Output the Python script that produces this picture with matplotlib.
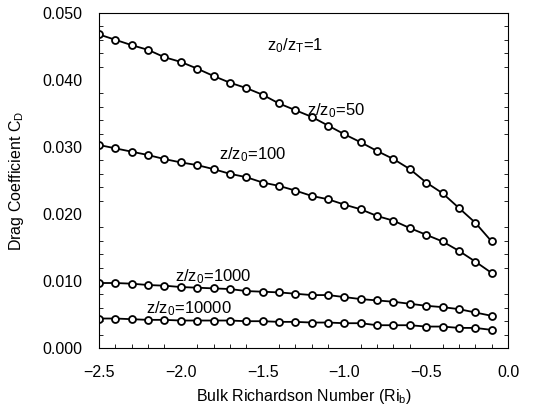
import matplotlib
matplotlib.use("Agg")
import matplotlib.pyplot as plt
from matplotlib.ticker import MultipleLocator, FormatStrFormatter, FuncFormatter

plt.rcParams["font.family"] = ["Liberation Sans", "DejaVu Sans"]
plt.rcParams["mathtext.default"] = "regular"

# bulk Richardson number, -2.5 .. -0.1 in steps of 0.1
ri_b = [-2.5, -2.4, -2.3, -2.2, -2.1, -2.0, -1.9, -1.8, -1.7, -1.6, -1.5, -1.4, -1.3,
        -1.2, -1.1, -1.0, -0.9, -0.8, -0.7, -0.6, -0.5, -0.4, -0.3, -0.2, -0.1]

cd_50 = [0.0468, 0.0460, 0.0452, 0.0445, 0.0434, 0.0427, 0.0417, 0.0406, 0.0396,
         0.0388, 0.0378, 0.0365, 0.0355, 0.0345, 0.0332, 0.0319, 0.0307, 0.0294,
         0.0282, 0.0267, 0.0247, 0.0231, 0.0209, 0.0187, 0.0159]
cd_100 = [0.0303, 0.0298, 0.0293, 0.0288, 0.0282, 0.0277, 0.0273, 0.0267, 0.0260,
          0.0255, 0.0247, 0.0242, 0.0235, 0.0227, 0.0222, 0.0214, 0.0207, 0.0197,
          0.0190, 0.0179, 0.0169, 0.0159, 0.0145, 0.0129, 0.0112]
cd_1000 = [0.0097, 0.0097, 0.0096, 0.0094, 0.0093, 0.0091, 0.0090, 0.0089, 0.0088,
           0.0085, 0.0084, 0.0083, 0.0081, 0.0079, 0.0079, 0.0076, 0.0073, 0.0071,
           0.0069, 0.0066, 0.0063, 0.0061, 0.0058, 0.0053, 0.0048]
cd_10000 = [0.0044, 0.0044, 0.0043, 0.0042, 0.0042, 0.0041, 0.0041, 0.0041, 0.0041,
            0.0040, 0.0040, 0.0039, 0.0039, 0.0038, 0.0038, 0.0037, 0.0037, 0.0034,
            0.0034, 0.0034, 0.0032, 0.0032, 0.0030, 0.0030, 0.0027]

labels = [
    ("z/z$_0$=50", -1.05, 0.0355),
    ("z/z$_0$=100", -1.56, 0.0288),
    ("z/z$_0$=1000", -1.80, 0.0106),
    ("z/z$_0$=10000", -1.95, 0.0058),
    ("z$_0$/z$_T$=1", -1.30, 0.0452),
]

fig = plt.figure(figsize=(5.47, 4.08), dpi=100)
ax = fig.add_axes([99 / 547, 60 / 408, 409 / 547, 335 / 408])

for cd in (cd_50, cd_100, cd_1000, cd_10000):
    ax.plot(ri_b, cd, "-o", color="black", linewidth=1.3, markersize=5,
            markerfacecolor="white", markeredgewidth=1.3)

for text, x, y in labels:
    ax.text(x, y, text, fontsize=12, ha="center", va="center")

ax.set_xlim(-2.5, 0.0)
ax.set_ylim(0.0, 0.05)
ax.xaxis.set_major_locator(MultipleLocator(0.5))
ax.xaxis.set_minor_locator(MultipleLocator(0.1))
ax.yaxis.set_major_locator(MultipleLocator(0.01))
ax.yaxis.set_minor_locator(MultipleLocator(0.002))
ax.yaxis.set_major_formatter(FormatStrFormatter("%.3f"))
ax.xaxis.set_major_formatter(FuncFormatter(lambda v, pos: f"{v:.1f}".replace("-", "\u2212")))
ax.tick_params(which="both", direction="in", right=True, labelsize=11.5)
ax.tick_params(which="major", length=0, pad=12)
ax.tick_params(which="minor", length=3)

ax.set_xlabel("Bulk Richardson Number (Ri$_b$)", fontsize=11.5, labelpad=5)
ax.set_ylabel("Drag Coefficient C$_D$", fontsize=11.5, labelpad=12)

fig.savefig("out.png", dpi=100)
